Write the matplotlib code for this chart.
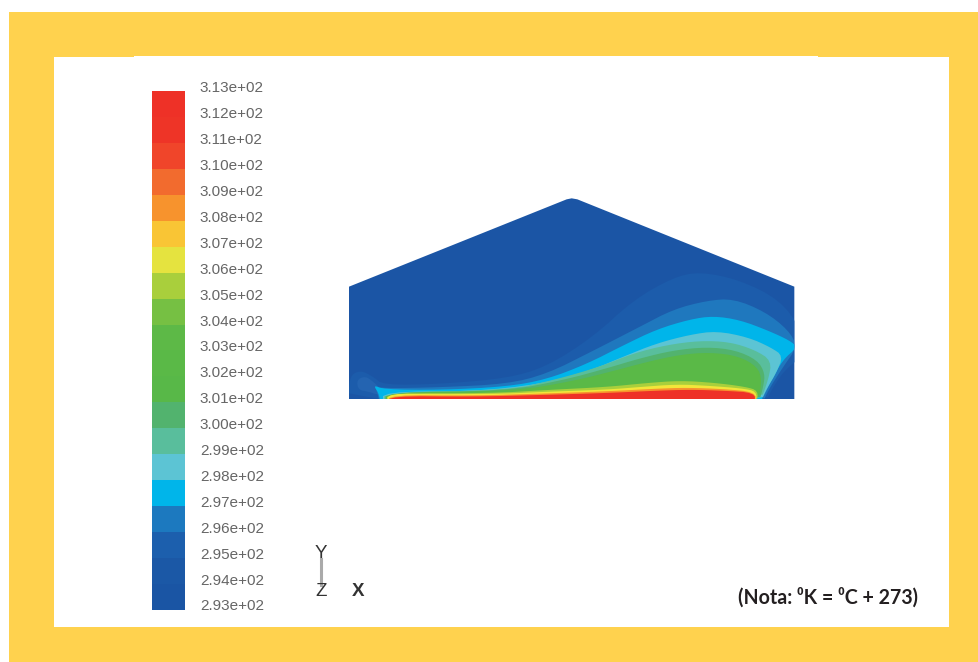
import numpy as np
import matplotlib
matplotlib.use("Agg")
import matplotlib.pyplot as plt
from matplotlib.patches import Polygon, Rectangle

W, H = 979, 662
YELLOW = "#FFD24E"

# colour scale (temperature in K)
levels = list(range(293, 314))
band_colors = ["#1A55A4", "#1B58A6", "#1C5FAD", "#1C79BF", "#00B5EA", "#5CC4D4",
               "#59BE9C", "#52B36E", "#58B848", "#5AB947", "#5DB947", "#76C043",
               "#A9CF3C", "#E5E33F", "#F9C535", "#F7932D", "#F26B2E", "#F0452A",
               "#EE3427", "#EE3127"]
tick_labels = [f"{v / 100:.2f}e+02" for v in levels]

# building outline and temperature bands (outer to inner)
outline = [(27, 640), (27, 290), (680, 28), (695, 25), (712, 28), (1363, 290), (1363, 640)]
background = "#1B55A5"
contours = [
    ("#1C5CAB", [(27, 640), (27, 560), (60, 540), (100, 560), (130, 585), (300, 582), (500, 565), (620, 530),
                 (760, 440), (880, 330), (1000, 262), (1080, 245), (1200, 270), (1320, 330), (1385, 420),
                 (1385, 500), (1335, 540), (1300, 590), (1275, 640)]),
    ("#2464B1", [(55, 600), (50, 570), (75, 558), (100, 575), (125, 600), (115, 615), (85, 605)]),
    ("#1F78BE", [(105, 588), (130, 595), (300, 592), (500, 582), (620, 552), (760, 482), (900, 410), (1000, 358),
                 (1100, 332), (1180, 326), (1275, 365), (1345, 420), (1372, 470), (1330, 530), (1285, 600),
                 (1268, 640), (120, 640), (112, 610)]),
    ("#00B5EA", [(100, 585), (130, 598), (300, 600), (500, 590), (620, 568), (740, 522), (850, 466), (950, 418),
                 (1050, 388), (1120, 378), (1200, 390), (1285, 422), (1350, 452), (1372, 472), (1328, 510),
                 (1296, 570), (1270, 610), (1264, 640), (122, 640), (116, 610)]),
    ("#5CC4D4", [(130, 605), (400, 604), (600, 583), (750, 542), (850, 500), (950, 460), (1050, 434), (1130, 423),
                 (1225, 442), (1292, 472), (1330, 498), (1308, 550), (1284, 590), (1260, 640), (128, 640)]),
    ("#59BE9C", [(133, 606), (500, 601), (650, 568), (780, 530), (880, 490), (980, 465), (1080, 452), (1170, 456),
                 (1245, 480), (1295, 512), (1285, 570), (1258, 640), (133, 640)]),
    ("#52B36E", [(136, 607), (500, 603), (680, 568), (800, 535), (900, 505), (1000, 481), (1100, 471), (1185, 480),
                 (1252, 510), (1275, 550), (1270, 590), (1256, 640), (136, 640)]),
    ("#5AB947", [(138, 607), (520, 604), (700, 573), (820, 543), (920, 516), (1020, 494), (1110, 487), (1195, 498),
                 (1252, 530), (1266, 570), (1254, 640), (138, 640)]),
    ("#A9CF3C", [(141, 609), (450, 610), (620, 600), (800, 591), (920, 579), (1020, 572), (1120, 578), (1215, 590),
                 (1255, 602), (1250, 640), (141, 640)]),
    ("#F2E63A", [(143, 610), (300, 613), (500, 611), (600, 606), (800, 599), (900, 591), (1010, 583), (1100, 587),
                 (1205, 595), (1250, 604), (1248, 640), (143, 640)]),
    ("#F7932D", [(147, 615), (400, 617), (600, 611), (800, 604), (950, 596), (1040, 593), (1150, 597), (1247, 606),
                 (1246, 640), (147, 640)]),
    ("#EE3127", [(150, 618), (400, 620), (600, 615), (800, 609), (950, 602), (1050, 599), (1150, 602), (1245, 608),
                 (1244, 640), (150, 640)]),
]


def smooth(points, n=2):
    p = np.asarray(points, float)
    for _ in range(n):
        q = np.roll(p, -1, axis=0)
        p = np.column_stack([0.75 * p + 0.25 * q, 0.25 * p + 0.75 * q]).reshape(-1, 2)
    return p


def axes_px(x0, y0, x1, y1, **kw):
    return fig.add_axes([x0 / W, 1 - y1 / H, (x1 - x0) / W, (y1 - y0) / H], **kw)


fig = plt.figure(figsize=(W / 100, H / 100), dpi=100, facecolor="white")

# page frame
fig.add_artist(Rectangle((9 / W, 0), 1 - 9 / W, 1 - 12 / H, transform=fig.transFigure, fc=YELLOW, ec="none", zorder=-3))
fig.add_artist(Rectangle((54 / W, 1 - 627 / H), 895 / W, 570 / H, transform=fig.transFigure, fc="white", ec="none", zorder=-2))
fig.add_artist(Rectangle((134 / W, 1 - 57 / H), 684 / W, 1 / H, transform=fig.transFigure, fc="white", ec="none", zorder=-2))

# colour bar
ax_bar = axes_px(152, 91, 185, 610)
ax_bar.bar([0] * len(band_colors), np.diff(levels), bottom=levels[:-1], width=1, color=band_colors, linewidth=0)
ax_bar.set_xlim(-0.5, 0.5)
ax_bar.set_ylim(levels[0], levels[-1])
ax_bar.axis("off")

# colour bar labels, offset slightly above the bands as in the original
ax_lab = axes_px(185, 87, 186, 605)
ax_lab.patch.set_alpha(0)
ax_lab.set_ylim(levels[0], levels[-1])
ax_lab.set_xticks([])
ax_lab.yaxis.tick_right()
ax_lab.set_yticks(levels)
ax_lab.set_yticklabels(tick_labels, family="Liberation Sans", fontsize=11, color="#666666")
ax_lab.tick_params(axis="y", length=0, pad=10)
for s in ax_lab.spines.values():
    s.set_visible(False)

# temperature field
ax = axes_px(340, 190, 810, 410)
ax.set_xlim(0, 1410)
ax.set_ylim(660, 0)
ax.axis("off")
ax.patch.set_alpha(0)
house = Polygon(np.array(outline), closed=True, fc=background, ec="none")
ax.add_patch(house)
clip_y = 628
for color, pts in contours:
    poly = Polygon(smooth(pts), closed=True, fc=color, ec="none")
    ax.add_patch(poly)
    poly.set_clip_path(house.get_path(), house.get_transform())
# cut the domain at the floor
ax.add_patch(Rectangle((0, clip_y), 1410, 40, fc="white", ec="none", zorder=5))

# axis triad
ax_t = axes_px(0, 0, W, H)
ax_t.set_xlim(0, W)
ax_t.set_ylim(H, 0)
ax_t.axis("off")
ax_t.patch.set_alpha(0)
ax_t.plot([321, 321], [559, 585], color="#AAAAAA", lw=2.2)
for s, x, y in [("Y", 321, 554), ("Z", 321, 591), ("X", 358, 591)]:
    ax_t.text(x, y, s, ha="center", va="center", family="Liberation Sans", fontsize=13.5,
              color="#333333", fontweight="bold" if s == "X" else "normal")

ax_t.text(738, 598, "(Nota: \u2070K = \u2070C + 273)", ha="left", va="center",
          family=["Lato", "DejaVu Sans"], fontweight="bold", fontsize=14.1, color="#231F20")

fig.savefig("out.png", dpi=100, facecolor=fig.get_facecolor())
